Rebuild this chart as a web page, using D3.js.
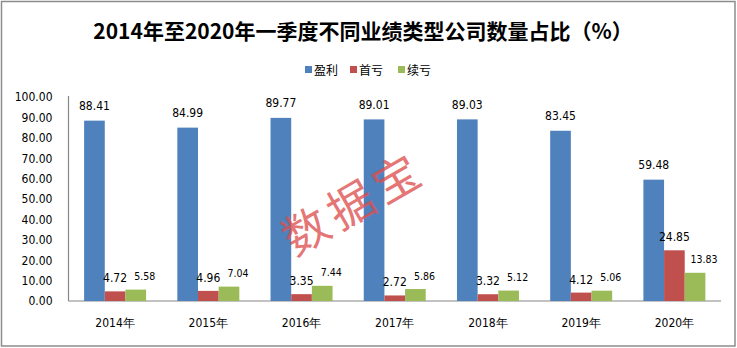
<!DOCTYPE html>
<html><head><meta charset="utf-8">
<script src="https://cdn.jsdelivr.net/npm/d3@7"></script>
<style>
html,body{margin:0;padding:0;background:#fff;}
svg{display:block;}
</style></head>
<body>
<svg id="chart" width="737" height="348"></svg>
<script>
const years = ["2014年","2015年","2016年","2017年","2018年","2019年","2020年"];
const seriesNames = ["盈利","首亏","续亏"];
const profit = [88.41,84.99,89.77,89.01,89.03,83.45,59.48];
const firstLoss = [4.72,4.96,3.35,2.72,3.32,4.12,24.85];
const contLoss = [5.58,7.04,7.44,5.86,5.12,5.06,13.83];
const yTicks = [0,10,20,30,40,50,60,70,80,90,100];
const colors = ["#4F81BD","#C0504D","#9BBB59"];
const titleText = "2014年至2020年一季度不同业绩类型公司数量占比（%）";
const watermark = "数据宝";

const series = [profit, firstLoss, contLoss];
const svg = d3.select("#chart");
const numFont = "'DejaVu Sans Condensed','Liberation Sans',sans-serif";
const cjkFont = "'Noto Sans CJK SC','DejaVu Sans Condensed',sans-serif";

// frame
svg.append("rect").attr("x",1.5).attr("y",1.5).attr("width",733.5).attr("height",344.5)
  .attr("fill","#fff").attr("stroke","#8c8c8c").attr("stroke-width",1.5);

const x0 = d3.scaleBand().domain(years).range([68.5,721]).paddingInner(0.335).paddingOuter(0.1675);
const x1 = d3.scaleBand().domain(d3.range(3)).range([0,x0.bandwidth()]);
const y = d3.scaleLinear().domain([0,100]).range([301,97]);

// title
svg.append("text").attr("x",363).attr("y",39).attr("text-anchor","middle")
  .attr("font-family",cjkFont).attr("font-weight","bold").attr("font-size",21)
  .attr("fill","#000").text(titleText);

// legend
const legendX = [305,350,398];
seriesNames.forEach((n,i)=>{
  const g = svg.append("g").attr("transform",`translate(${legendX[i]},0)`);
  g.append("rect").attr("x",0).attr("y",66).attr("width",7).attr("height",7).attr("fill",colors[i]);
  g.append("text").attr("x",9).attr("y",74.5).attr("font-family",cjkFont).attr("font-size",12)
    .attr("fill","#000").text(n);
});

// y axis
const yAxis = d3.axisLeft(y).tickValues(yTicks).tickSize(0).tickPadding(16).tickFormat(d3.format(".2f"));
const ya = svg.append("g").attr("transform","translate(68.5,0)").call(yAxis);
ya.select(".domain").attr("stroke","#868686").attr("stroke-width",1.2).attr("d","M0,96V301");
ya.selectAll("text").attr("font-family",numFont).attr("font-size",12).attr("fill","#000");

// x axis
const xAxis = d3.axisBottom(x0).tickSize(0).tickPadding(17);
const xa = svg.append("g").attr("transform","translate(0,301)").call(xAxis);
xa.select(".domain").attr("stroke","#868686").attr("stroke-width",1.2).attr("d","M68.5,0H721");
xa.selectAll("text").attr("font-family",numFont).attr("font-size",12).attr("fill","#000");

// bars
years.forEach((yr,ci)=>{
  series.forEach((s,si)=>{
    svg.append("rect")
      .attr("x",x0(yr)+x1(si)).attr("y",y(s[ci]))
      .attr("width",x1.bandwidth()).attr("height",y(0)-y(s[ci]))
      .attr("fill",colors[si]);
  });
});

// labels
const labelCfg = [
  {dx:0, dy:-10.5, size:12},
  {dx:0, dy:-9, size:12},
  {dx:9, dy:-9.5, size:10.5}
];
years.forEach((yr,ci)=>{
  series.forEach((s,si)=>{
    const c = labelCfg[si];
    svg.append("text")
      .attr("x",x0(yr)+x1(si)+x1.bandwidth()/2+c.dx)
      .attr("y",y(s[ci])+c.dy)
      .attr("text-anchor","middle")
      .attr("font-family",numFont).attr("font-size",c.size).attr("fill","#000")
      .text(d3.format(".2f")(s[ci]));
  });
});

// watermark
svg.append("text").attr("transform","translate(362,218) rotate(-30)")
  .attr("text-anchor","middle").attr("font-family",cjkFont).attr("font-size",46)
  .attr("letter-spacing",6)
  .attr("fill","rgba(222,80,80,0.78)").text(watermark);
</script>
</body></html>
